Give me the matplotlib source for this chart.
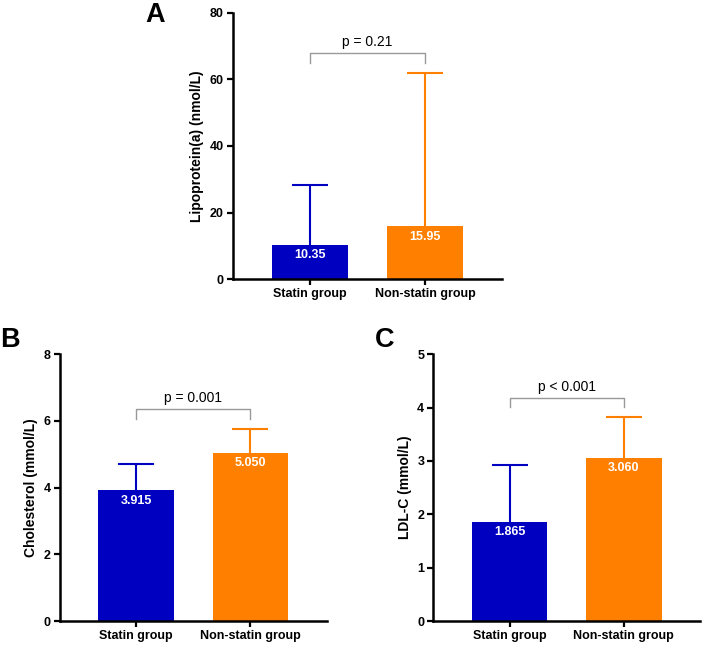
import matplotlib
matplotlib.use("Agg")
import matplotlib.pyplot as plt
from matplotlib import transforms

plt.rcParams['font.family'] = ['Liberation Sans', 'DejaVu Sans']

groups = ["Statin group", "Non-statin group"]

# Panel A: Lipoprotein(a)
lpa_median = [10.35, 15.95]
lpa_upper = [28.2, 62.0]
lpa_labels = ["10.35", "15.95"]
lpa_p = "p = 0.21"

# Panel B: Cholesterol
chol_median = [3.915, 5.050]
chol_upper = [4.72, 5.77]
chol_labels = ["3.915", "5.050"]
chol_p = "p = 0.001"

# Panel C: LDL-C
ldl_median = [1.865, 3.060]
ldl_upper = [2.93, 3.82]
ldl_labels = ["1.865", "3.060"]
ldl_p = "p < 0.001"

colors = ["#0000C0", "#FF8000"]

fig = plt.figure(figsize=(7.02, 6.46), dpi=100)

W, H = 702, 646
def px_axes(left, top, right, bottom):
    return fig.add_axes([left / W, 1 - bottom / H, (right - left) / W, (bottom - top) / H])

panels = [
    dict(ax=px_axes(233, 12.7, 502, 279.3), med=lpa_median, up=lpa_upper, lab=lpa_labels, p=lpa_p,
         ymax=80, yticks=[0, 20, 40, 60, 80], ylabel="Lipoprotein(a) (nmol/L)",
         br=0.85, arm=0.04, letter="A", lpos=(145, 22)),
    dict(ax=px_axes(60, 354.3, 326.7, 621), med=chol_median, up=chol_upper, lab=chol_labels, p=chol_p,
         ymax=8, yticks=[0, 2, 4, 6, 8], ylabel="Cholesterol (mmol/L)",
         br=0.796, arm=0.0375, letter="B", lpos=(0, 347)),
    dict(ax=px_axes(433.3, 354.3, 700, 621), med=ldl_median, up=ldl_upper, lab=ldl_labels, p=ldl_p,
         ymax=5, yticks=[0, 1, 2, 3, 4, 5], ylabel="LDL-C (mmol/L)",
         br=0.838, arm=0.034, letter="C", lpos=(375, 347)),
]

x = [0, 1]
for P in panels:
    ax = P["ax"]
    for i in range(2):
        ax.plot([x[i], x[i]], [P["med"][i], P["up"][i]], color=colors[i], lw=1.5, zorder=1,
                solid_capstyle="butt")
        ax.plot([x[i]], [P["up"][i]], marker="_", markersize=26, markeredgewidth=1.5,
                color=colors[i], zorder=1)
    ax.bar(x, P["med"], width=0.663, color=colors, zorder=2)
    for i in range(2):
        ax.annotate(P["lab"][i], (x[i], P["med"][i]), xytext=(0, -7.5), textcoords="offset points",
                    ha="center", va="center", color="white", fontsize=9, fontweight="bold", zorder=3)
    ax.set_xlim(-0.668, 1.668)
    ax.set_ylim(0, P["ymax"])
    ax.set_yticks(P["yticks"])
    ax.set_xticks(x)
    ax.set_xticklabels(groups)
    ax.set_ylabel(P["ylabel"], fontsize=10, fontweight="bold", labelpad=4)
    for s in ["top", "right"]:
        ax.spines[s].set_visible(False)
    for s in ["left", "bottom"]:
        ax.spines[s].set_linewidth(1.8)
    ax.tick_params(axis="both", width=1.6, length=4.5, labelsize=9, pad=2)
    for t in ax.get_xticklabels() + ax.get_yticklabels():
        t.set_fontweight("bold")
    # bracket
    tr = transforms.blended_transform_factory(ax.transData, ax.transAxes)
    yb = P["br"]
    ax.plot([0, 0, 1, 1], [yb - P["arm"], yb, yb, yb - P["arm"]], color="#999999", lw=1.0,
            transform=tr, clip_on=False)
    ax.annotate(P["p"], (0.5, yb), xycoords=tr, xytext=(0, 7.5), textcoords="offset points",
                ha="center", va="center", fontsize=10)
    fig.text(P["lpos"][0] / W, 1 - P["lpos"][1] / H, P["letter"], fontsize=19.5,
             fontweight="bold", ha="left", va="baseline")

fig.savefig("out.png", dpi=100)
